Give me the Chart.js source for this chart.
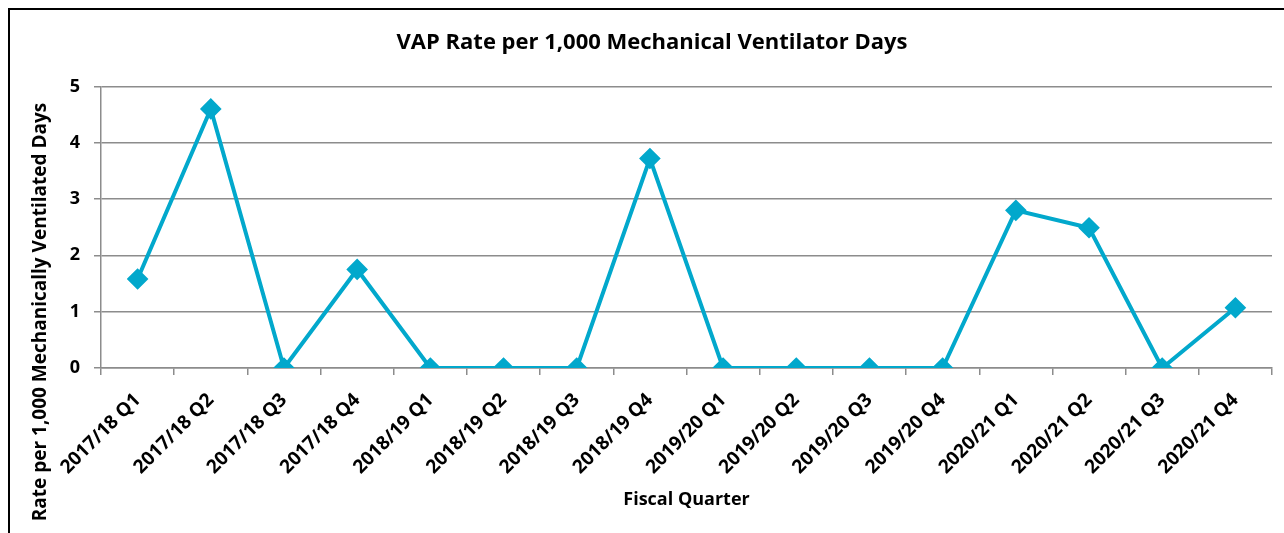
<!DOCTYPE html>
<html>
<head>
<meta charset="utf-8">
<script src="https://cdn.jsdelivr.net/npm/chart.js@4/dist/chart.umd.min.js"></script>
<style>
  html, body { margin: 0; padding: 0; background: #fff; overflow: hidden; }
  #frame { position: absolute; left: 8px; top: 8px; width: 1300px; height: 600px; border: 2px solid #000; box-sizing: border-box; }
  #wrap { position: absolute; left: 0; top: 0; width: 1284px; height: 533px; }
</style>
</head>
<body>
<div id="frame"></div>
<div id="wrap"><canvas id="vapChart" width="1284" height="533"></canvas></div>
<script>
var quarters = ['2017/18 Q1', '2017/18 Q2', '2017/18 Q3', '2017/18 Q4',
  '2018/19 Q1', '2018/19 Q2', '2018/19 Q3', '2018/19 Q4',
  '2019/20 Q1', '2019/20 Q2', '2019/20 Q3', '2019/20 Q4',
  '2020/21 Q1', '2020/21 Q2', '2020/21 Q3', '2020/21 Q4'];
var vapRate = [1.58, 4.6, 0, 1.75, 0, 0, 0, 3.72, 0, 0, 0, 0, 2.8, 2.49, 0, 1.07];
var yTicks = [0, 1, 2, 3, 4, 5];

var chartTitle = 'VAP Rate per 1,000 Mechanical Ventilator Days';
var xTitle = 'Fiscal Quarter';
var yTitle = 'Rate per 1,000 Mechanically Ventilated Days';

var fontName = '"Open Sans", Lato, sans-serif';
var lineColor = '#02a8cc';
var gridColor = '#8c8c8c';

// y axis title is drawn here so it can be centred on the whole chart like the original
var yTitlePlugin = {
  id: 'yTitle',
  afterDraw: function(chart) {
    var ctx = chart.ctx;
    ctx.save();
    ctx.translate(41, 312);
    ctx.rotate(-Math.PI / 2);
    ctx.font = 'bold 19px ' + fontName;
    ctx.fillStyle = '#000';
    ctx.textAlign = 'center';
    ctx.textBaseline = 'middle';
    ctx.fillText(yTitle, 0, 0);
    ctx.restore();
  }
};

var ctx = document.getElementById('vapChart').getContext('2d');
var myChart = new Chart(ctx, {
  type: 'line',
  data: {
    labels: quarters,
    datasets: [{
      label: 'VAP Rate',
      data: vapRate,
      borderColor: lineColor,
      backgroundColor: lineColor,
      borderWidth: 4,
      pointStyle: 'rectRot',
      pointRadius: 8,
      pointHoverRadius: 8,
      tension: 0
    }]
  },
  options: {
    responsive: false,
    animation: false,
    layout: { padding: { left: 30, right: 10, top: 0, bottom: 0 } },
    plugins: {
      legend: { display: false },
      tooltip: { enabled: false },
      title: {
        display: true,
        text: chartTitle,
        color: '#000',
        font: { family: fontName, size: 22, weight: 'bold', lineHeight: 1.2 },
        padding: { top: 30, bottom: 30 }
      }
    },
    scales: {
      x: {
        offset: true,
        afterFit: function(scale) { scale.height = 165; },
        grid: { offset: true, drawOnChartArea: false, drawTicks: true, tickLength: 7, color: gridColor, lineWidth: 1.5 },
        border: { color: gridColor, width: 1.5 },
        ticks: {
          minRotation: 45, maxRotation: 45, padding: 14,
          color: '#000',
          font: { family: fontName, size: 19, weight: 'bold' }
        },
        title: {
          display: true,
          text: xTitle,
          color: '#000',
          font: { family: fontName, size: 18, weight: 'bold', lineHeight: 1.2 },
          padding: { top: 0, bottom: 22 }
        }
      },
      y: {
        min: 0,
        max: 5,
        afterFit: function(scale) { scale.width = 71; },
        afterBuildTicks: function(scale) { scale.ticks = yTicks.map(function(v) { return { value: v }; }); },
        grid: { color: gridColor, lineWidth: 1.5, tickLength: 7 },
        border: { color: gridColor, width: 1.5 },
        ticks: {
          padding: 14,
          color: '#000',
          font: { family: fontName, size: 18, weight: 'bold' }
        }
      }
    }
  },
  plugins: [yTitlePlugin]
});
</script>
</body>
</html>
